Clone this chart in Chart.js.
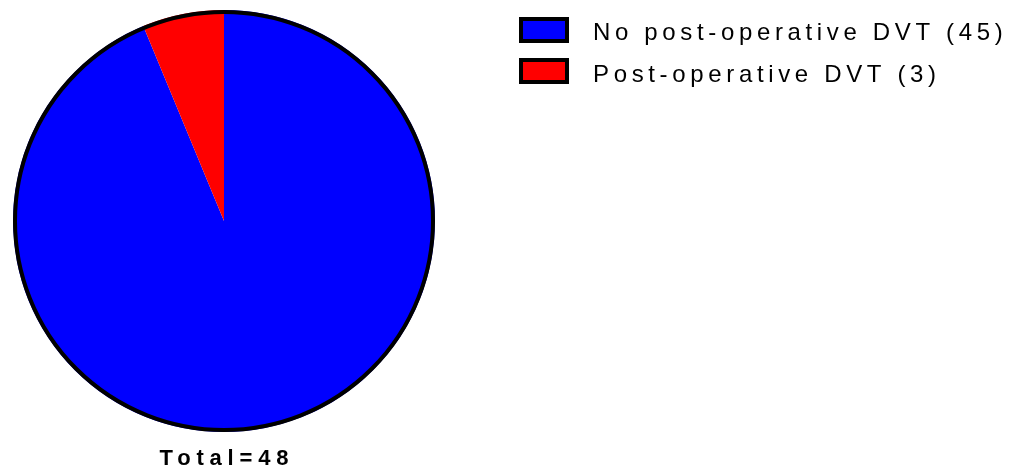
<!DOCTYPE html>
<html>
<head>
<meta charset="utf-8">
<script src="https://cdn.jsdelivr.net/npm/chart.js@4"></script>
<style>
  html, body { margin: 0; padding: 0; background: #fff; }
  canvas { display: block; }
</style>
</head>
<body>
<canvas id="pieChart" width="1013" height="469"></canvas>
<script>
// DVT outcome counts
const categories = ["No post-operative DVT", "Post-operative DVT"];
const counts = [45, 3];
const sliceColors = ["#0000ff", "#ff0000"];

const total = counts.reduce((a, b) => a + b, 0);

// black rim round the whole pie, no lines between slices
const outlinePlugin = {
  id: "outline",
  afterDatasetsDraw(chart) {
    const arc = chart.getDatasetMeta(0).data[0];
    if (!arc) return;
    const ctx = chart.ctx;
    ctx.save();
    ctx.beginPath();
    ctx.arc(arc.x, arc.y, arc.outerRadius - 2, 0, Math.PI * 2);
    ctx.lineWidth = 4;
    ctx.strokeStyle = "#000";
    ctx.stroke();

    // total under the pie
    ctx.font = "bold 22px 'Liberation Sans', Arial, sans-serif";
    ctx.letterSpacing = "5.8px";
    ctx.fillStyle = "#000";
    ctx.textBaseline = "alphabetic";
    ctx.textAlign = "left";
    const label = "Total=" + total;
    const w = ctx.measureText(label).width - 5.8;
    ctx.fillText(label, arc.x - w / 2, 465);
    ctx.restore();
  },
};

// legend on the right, spaced-out text and boxed swatches
const legendPlugin = {
  id: "sideLegend",
  afterDraw(chart) {
    const ctx = chart.ctx;
    ctx.save();
    ctx.font = "24px 'Liberation Sans', Arial, sans-serif";
    ctx.letterSpacing = "4.65px";
    ctx.textBaseline = "alphabetic";
    categories.forEach((name, i) => {
      const top = 17 + i * 41;
      ctx.fillStyle = sliceColors[i];
      ctx.fillRect(521, top + 2, 46, 22);
      ctx.lineWidth = 4;
      ctx.strokeStyle = "#000";
      ctx.strokeRect(521, top + 2, 46, 22);
      ctx.fillStyle = "#000";
      ctx.fillText(name + " (" + counts[i] + ")", 593, top + 23 + i);
    });
    ctx.restore();
  },
};

new Chart(document.getElementById("pieChart"), {
  type: "pie",
  data: {
    labels: categories,
    datasets: [
      {
        data: counts,
        backgroundColor: sliceColors,
        borderWidth: 0,
      },
    ],
  },
  options: {
    responsive: false,
    animation: false,
    layout: { padding: { left: 12, top: 10, right: 577, bottom: 37 } },
    plugins: {
      legend: { display: false },
      tooltip: { enabled: false },
    },
  },
  plugins: [outlinePlugin, legendPlugin],
});
</script>
</body>
</html>
